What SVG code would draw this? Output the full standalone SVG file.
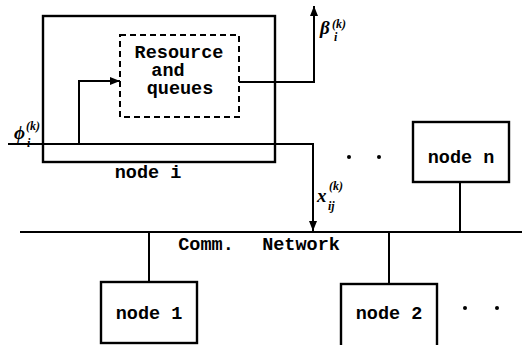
<svg xmlns="http://www.w3.org/2000/svg" width="522" height="345" viewBox="0 0 522 345">
<defs>
<marker id="ah" markerWidth="10" markerHeight="8" refX="10" refY="4" orient="auto" markerUnits="userSpaceOnUse">
<path d="M0,0 L10,4 L0,8 Z" fill="#000"/>
</marker>
<style>
.box{fill:none;stroke:#000;stroke-width:2.4}
.dash{fill:none;stroke:#000;stroke-width:2;stroke-dasharray:6,4}
.ln{fill:none;stroke:#000;stroke-width:2}
.tt{font-family:'Liberation Mono','DejaVu Sans Mono',monospace;font-size:18.5px;font-weight:bold;fill:#000;text-anchor:middle}
.m{font-family:'Liberation Serif','DejaVu Serif',serif;font-style:italic;font-weight:bold;fill:#000}
.dot{fill:#000}
</style>
</defs>
<rect width="522" height="345" fill="#fff"/>

<g id="node-i">
<rect class="box" x="43" y="16" width="232" height="146"/>
<text class="tt" x="148" y="178">node i</text>
</g>
<g id="resource">
<rect class="dash" x="120" y="35" width="119" height="82"/>
<text class="tt" x="179" y="58">Resource</text>
<text class="tt" x="168" y="76">and</text>
<text class="tt" x="180" y="94">queues</text>
</g>
<g id="node-n">
<rect class="box" x="413" y="122" width="96" height="60"/>
<text class="tt" x="461" y="163">node n</text>
</g>
<g id="node-1">
<rect class="box" x="101" y="282" width="96" height="61"/>
<text class="tt" x="149" y="319">node 1</text>
</g>
<g id="node-2">
<rect class="box" x="341" y="284" width="96" height="64"/>
<text class="tt" x="389" y="319">node 2</text>
</g>
<g id="network">
<line class="ln" x1="20" y1="232" x2="522" y2="232"/>
<text class="tt" x="206" y="250">Comm.</text>
<text class="tt" x="301" y="250">Network</text>
</g>

<g id="connectors">
<path class="ln" d="M8,144 H313 V231" marker-end="url(#ah)"/>
<path class="ln" d="M79,144 V81 H120" marker-end="url(#ah)"/>
<path class="ln" d="M239,82 H314 V6" marker-end="url(#ah)"/>
<line class="ln" x1="460" y1="182" x2="460" y2="232"/>
<line class="ln" x1="149" y1="232" x2="149" y2="282"/>
<line class="ln" x1="389" y1="232" x2="389" y2="284"/>
</g>

<g id="labels">
<text class="m" x="320" y="34" font-size="19">β</text>
<text class="m" x="332" y="28" font-size="12">(k)</text>
<text class="m" x="334" y="41" font-size="12">i</text>
<text class="m" x="14" y="139" font-size="19">ϕ</text>
<text class="m" x="26" y="130" font-size="12">(k)</text>
<text class="m" x="27" y="147" font-size="12">i</text>
<text class="m" x="317" y="202" font-size="19">x</text>
<text class="m" x="329" y="190" font-size="12">(k)</text>
<text class="m" x="328" y="210" font-size="12">ij</text>
</g>

<g id="dots">
<circle class="dot" cx="349" cy="157" r="2"/>
<circle class="dot" cx="379" cy="157" r="2"/>
<circle class="dot" cx="465" cy="308" r="2"/>
<circle class="dot" cx="497" cy="308" r="2"/>
</g>
</svg>
